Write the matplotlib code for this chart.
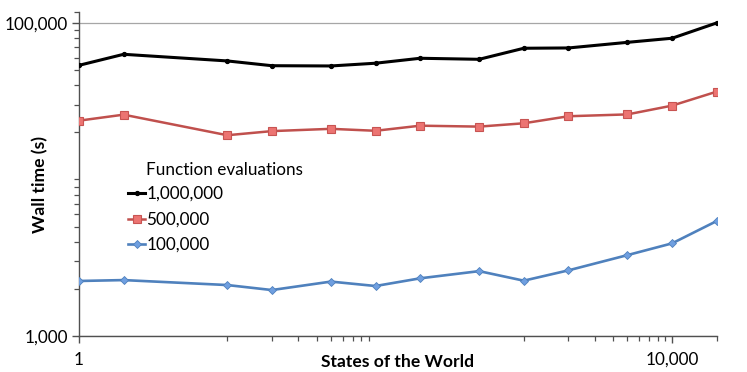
import matplotlib
matplotlib.use("Agg")
import matplotlib.pyplot as plt
from matplotlib.ticker import FixedLocator, NullFormatter, FuncFormatter

plt.rcParams['font.family'] = ['Lato', 'DejaVu Sans']

states = [1, 2, 10, 20, 50, 100, 200, 500, 1000, 2000, 5000, 10000, 20000]
evals_1m = [53800, 63300, 57400, 53500, 53300, 55500, 59700, 58800, 69200, 69500, 75500, 80200, 100500]
evals_500k = [23800, 26000, 19200, 20400, 21100, 20500, 22100, 21800, 22900, 25400, 26100, 29700, 36500]
evals_100k = [2240, 2270, 2110, 1960, 2220, 2080, 2330, 2590, 2250, 2620, 3280, 3900, 5420]
series_labels = ['1,000,000', '500,000', '100,000']
legend_title = 'Function evaluations'
x_label = 'States of the World'
y_label = 'Wall time (s)'
x_major = [1, 10000]
y_major = [1000, 100000]

W, H = 747, 372
fig = plt.figure(figsize=(W / 100, H / 100), dpi=100)
l, r, t, b = 79, 716.7, 11.7, 335.7
ax = fig.add_axes([l / W, 1 - b / H, (r - l) / W, (b - t) / H])

ax.plot(states, evals_1m, color='black', lw=2.2, marker='o', ms=2.8,
        mfc='black', mec='black', label=series_labels[0], zorder=3)
ax.plot(states, evals_500k, color='#c0504d', lw=1.8, marker='s', ms=5.2,
        mfc='#ec7472', mec='#c85452', mew=0.8, label=series_labels[1], zorder=3)
ax.plot(states, evals_100k, color='#4f81bd', lw=1.9, marker='D', ms=3.6,
        mfc='#6f9fe0', mec='#4f81bd', mew=0.6, label=series_labels[2], zorder=3)

ax.set_xscale('log')
ax.set_yscale('log')
ax.set_xlim(1, 20000)
ax.set_ylim(1000, 118600)

fmt = FuncFormatter(lambda v, p: f"{int(round(v)):,}")
ax.xaxis.set_major_locator(FixedLocator(x_major))
ax.xaxis.set_major_formatter(fmt)
xminor = [k * 10 for k in range(1, 10)] + [k * 1000 for k in range(1, 10)] + [20000]
ax.xaxis.set_minor_locator(FixedLocator(xminor))
ax.xaxis.set_minor_formatter(NullFormatter())

ax.yaxis.set_major_locator(FixedLocator(y_major))
ax.yaxis.set_major_formatter(fmt)
yminor = [k * 1000 for k in range(2, 10)] + [k * 10000 for k in range(1, 10)] + [118600]
ax.yaxis.set_minor_locator(FixedLocator(yminor))
ax.yaxis.set_minor_formatter(NullFormatter())

for s in ['top', 'right']:
    ax.spines[s].set_visible(False)
for s in ['left', 'bottom']:
    ax.spines[s].set_color('#505050')
    ax.spines[s].set_linewidth(1.0)

ax.tick_params(which='major', length=5, width=1, color='#505050', labelsize=12.3,
               labelcolor='black', direction='out')
ax.tick_params(which='minor', length=3.5, width=0.9, color='#505050', direction='out')
ax.tick_params(axis='x', which='major', pad=6.5)
ax.tick_params(axis='y', which='major', pad=3)

ax.grid(True, axis='y', which='major', color='#a6a6a6', lw=0.9)
ax.set_axisbelow(True)

ax.set_xlabel(x_label, fontsize=12.6, fontweight='bold', va='center')
ax.xaxis.set_label_coords(0.5, -0.082)
ax.set_ylabel(y_label, fontsize=12.6, fontweight='bold', va='center')
ax.yaxis.set_label_coords(-0.061, 0.467)

leg = ax.legend(loc='center left', bbox_to_anchor=(0.0773, 0.3586), frameon=False,
                fontsize=12.3, handlelength=1.0, handletextpad=0.05, borderpad=0,
                borderaxespad=0, labelspacing=0.55)
ax.text((146 - l) / (r - l), (b - 170) / (b - t), legend_title, transform=ax.transAxes,
        fontsize=12.3, ha='left', va='center')

fig.savefig('out.png', dpi=100)
